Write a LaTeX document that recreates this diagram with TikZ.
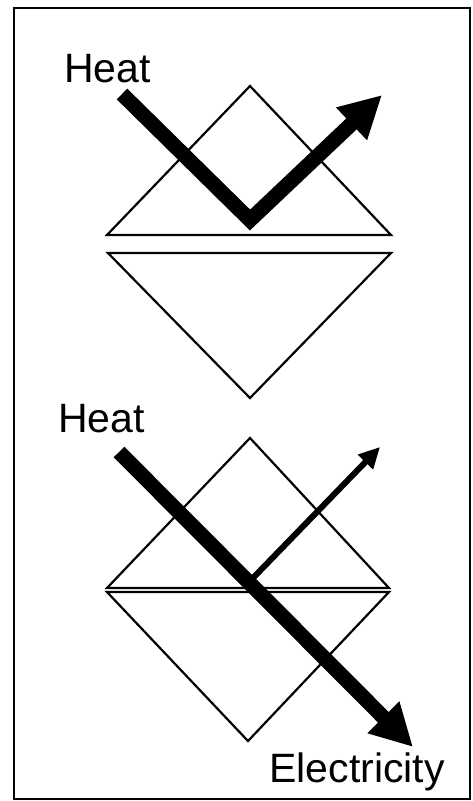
\documentclass[tikz,border=0pt]{standalone}
\usepackage{fontspec}
\setmainfont{Liberation Sans}
\usetikzlibrary{arrows.meta}

\tikzset{
  prism/.style={line width=2.2pt, line join=miter},
  heatflow/.style={line width=15pt, line join=miter, -{Triangle[length=42pt,width=42pt]}},
  thinflow/.style={line width=6pt, -{Triangle[length=21pt,width=20pt]}},
  lbl/.style={font=\fontsize{41}{43}\selectfont, inner sep=0pt}
}

\begin{document}
\begin{tikzpicture}[x=1pt,y=-1pt]
  \useasboundingbox (0,0) rectangle (472,801);
  \draw[line width=2pt] (14,8) rectangle (470,799);

  % upper sketch: heat is reflected
  \draw[prism] (107,235) -- (250,86) -- (391,235) -- cycle;
  \draw[prism] (108,253) -- (391,253) -- (250,398) -- cycle;
  \node[lbl, anchor=base west] (heatA) at (64,82) {Heat};
  \coordinate (inA) at (122,94);
  \coordinate (bendA) at (250,220);
  \coordinate (outA) at (382,95);
  \draw[heatflow] (inA) -- (bendA) -- (outA);

  % lower sketch: heat goes through
  \draw[prism] (107,588) -- (250,438) -- (389,588) -- cycle;
  \draw[prism] (107,592) -- (389,592) -- (248,741) -- cycle;
  \node[lbl, anchor=base west] (heatB) at (58,432) {Heat};
  \node[lbl, anchor=base east] (elec) at (445,782) {Electricity};
  \coordinate (inB) at (119,452);
  \coordinate (splitB) at (252,579);
  \coordinate (outB) at (380,447);
  \coordinate (tipB) at (413,747);
  \draw[thinflow] (splitB) -- (outB);
  \draw[heatflow] (inB) -- (tipB);
\end{tikzpicture}
\end{document}
